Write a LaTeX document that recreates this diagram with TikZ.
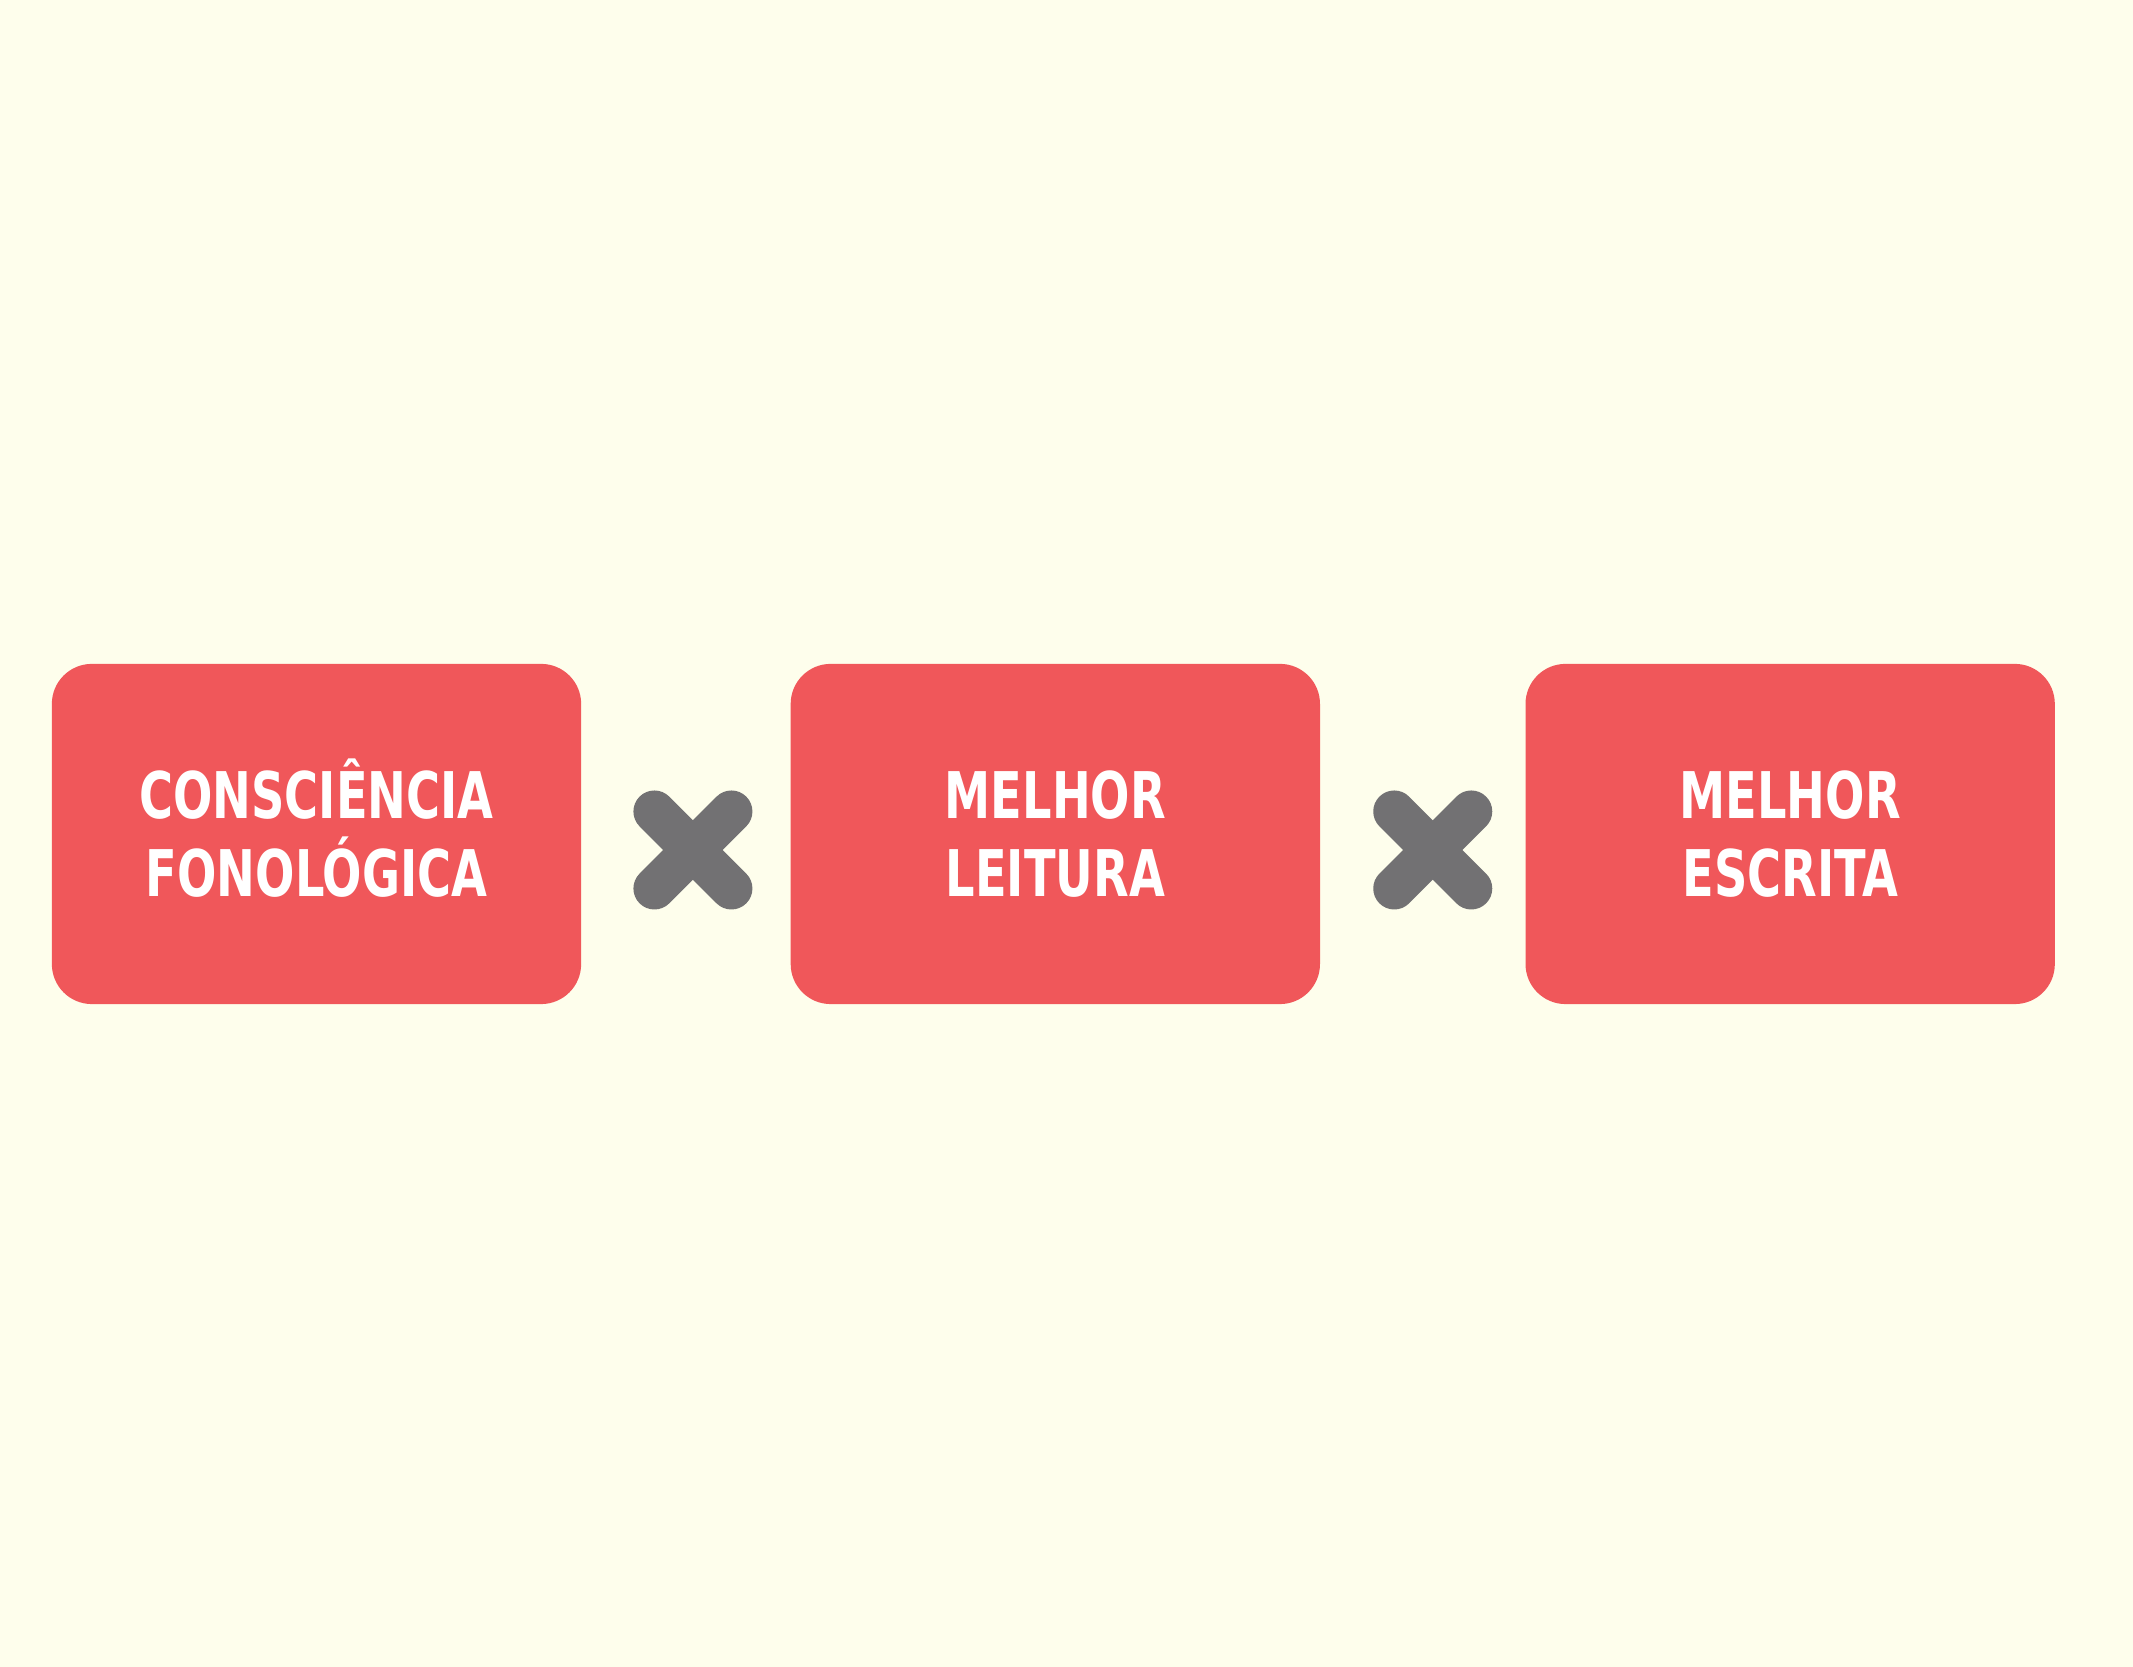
\documentclass[tikz,border=0pt]{standalone}
\usepackage{fontspec}
\usetikzlibrary{positioning,calc}
\newfontfamily\boxfont{DejaVu Sans Condensed Bold}
\definecolor{paperbg}{RGB}{254,254,236}
\definecolor{boxred}{RGB}{240,87,90}
\definecolor{crossgray}{RGB}{114,113,115}
\newcommand{\squeezetext}[1]{\scalebox{0.8}[1]{#1}}
\tikzset{
  box/.style={
    rectangle, rounded corners=0.4cm, fill=boxred, draw=none,
    minimum width=5.29cm, minimum height=3.4cm, inner sep=0pt,
    text=white, align=center, text height=35.57pt, text depth=0pt,
    font=\boxfont\fontsize{18.3}{22.2}\selectfont
  },
  crossmark/.style={line width=0.42cm, line cap=round, color=crossgray}
}

\begin{document}
\begin{tikzpicture}[x=0.01cm, y=0.01cm]
\fill[paperbg] (0,0) rectangle (2133,1667);

\node[box] (fono) at (316.5,833)
  {\squeezetext{CONSCIÊNCIA}\\\squeezetext{FONOLÓGICA}};
\node[box, right=2.08cm of fono] (leit)
  {\squeezetext{MELHOR}\\\squeezetext{LEITURA}};
\node[box, right=2.04cm of leit] (escr)
  {\squeezetext{MELHOR}\\\squeezetext{ESCRITA}};

\coordinate (x1) at ($(fono.east)!0.5!(leit.west)+(7,-16)$);
\coordinate (x2) at ($(leit.east)!0.5!(escr.west)+(10,-16)$);

\foreach \c in {x1,x2}{
  \draw[crossmark] ($(\c)+(-38.5,-38.5)$) -- ($(\c)+(38.5,38.5)$);
  \draw[crossmark] ($(\c)+(-38.5,38.5)$) -- ($(\c)+(38.5,-38.5)$);
}
\end{tikzpicture}
\end{document}
